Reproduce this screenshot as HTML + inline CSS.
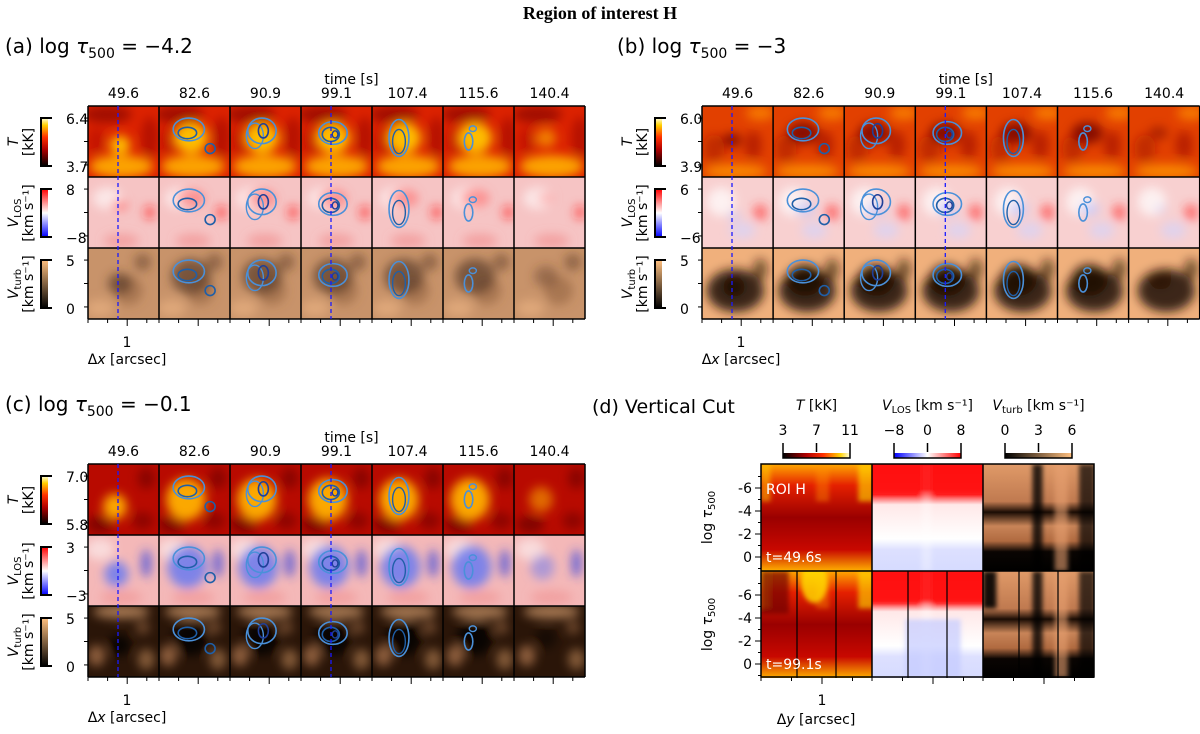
<!DOCTYPE html>
<html><head><meta charset="utf-8">
<style>
html,body{margin:0;padding:0;background:#fff;}
svg text{font-family:"DejaVu Sans","Liberation Sans",sans-serif;fill:#000;}
</style></head>
<body>
<svg id="fig" width="1200" height="729" viewBox="0 0 1200 729" xmlns="http://www.w3.org/2000/svg">
<defs>
<filter id="blur" x="-50%" y="-50%" width="200%" height="200%"><feGaussianBlur stdDeviation="5"/></filter>
<filter id="blur2" x="-50%" y="-50%" width="200%" height="200%"><feGaussianBlur stdDeviation="2.5"/></filter>
<linearGradient id="cmT" x1="0" y1="1" x2="0" y2="0"><stop offset="0" stop-color="#000"/><stop offset="0.35" stop-color="#b00000"/><stop offset="0.6" stop-color="#ff3000"/><stop offset="0.85" stop-color="#ffd000"/><stop offset="1" stop-color="#ffffe0"/></linearGradient>
<linearGradient id="cmV" x1="0" y1="1" x2="0" y2="0"><stop offset="0" stop-color="#0000ff"/><stop offset="0.5" stop-color="#ffffff"/><stop offset="1" stop-color="#ff0000"/></linearGradient>
<linearGradient id="cmB" x1="0" y1="1" x2="0" y2="0"><stop offset="0" stop-color="#000"/><stop offset="1" stop-color="#ffc080"/></linearGradient>
<linearGradient id="cmTh" x1="0" y1="0" x2="1" y2="0"><stop offset="0" stop-color="#000"/><stop offset="0.35" stop-color="#b00000"/><stop offset="0.6" stop-color="#ff3000"/><stop offset="0.85" stop-color="#ffd000"/><stop offset="1" stop-color="#ffffe0"/></linearGradient>
<linearGradient id="cmVh" x1="0" y1="0" x2="1" y2="0"><stop offset="0" stop-color="#0000ff"/><stop offset="0.5" stop-color="#ffffff"/><stop offset="1" stop-color="#ff0000"/></linearGradient>
<linearGradient id="cmBh" x1="0" y1="0" x2="1" y2="0"><stop offset="0" stop-color="#000"/><stop offset="1" stop-color="#ffc080"/></linearGradient>
<linearGradient id="dT" x1="0" y1="0" x2="0" y2="1"><stop offset="0" stop-color="#ffa800"/><stop offset="0.2" stop-color="#e52000"/><stop offset="0.5" stop-color="#9a0000"/><stop offset="0.8" stop-color="#c80800"/><stop offset="1" stop-color="#ffb000"/></linearGradient>
<linearGradient id="dV" x1="0" y1="0" x2="0" y2="1"><stop offset="0" stop-color="#ff1010"/><stop offset="0.28" stop-color="#ff2020"/><stop offset="0.38" stop-color="#ffe8e8"/><stop offset="0.7" stop-color="#ffffff"/><stop offset="0.8" stop-color="#dde0ff"/><stop offset="1" stop-color="#d6dbff"/></linearGradient>
<linearGradient id="dB" x1="0" y1="0" x2="0" y2="1"><stop offset="0" stop-color="#e09a68"/><stop offset="0.35" stop-color="#c07a50"/><stop offset="0.45" stop-color="#1a0c04"/><stop offset="0.58" stop-color="#c88458"/><stop offset="0.72" stop-color="#b06a40"/><stop offset="0.82" stop-color="#0a0502"/><stop offset="1" stop-color="#000"/></linearGradient>
</defs>
<text x="600" y="19" text-anchor="middle" style="font-family:'Liberation Serif',serif;font-weight:bold;font-size:18px">Region of interest H</text>
<g id="root"></g>
</svg>
<script>
const times = ["49.6","82.6","90.9","99.1","107.4","115.6","140.4"];
const panelLabels = ["(a) log ","(b) log ","(c) log "];
const panelTau = ["−4.2","−3","−0.1"];
const tTicks = [["6.4","3.7"],["6.0","3.9"],["7.0","5.8"]];
const vTicks = [["8","−8"],["6","−6"],["3","−3"]];
const bTicks = [["5","0"],["5","0"],["5","0"]];
const dYTicks = ["-6","-4","-2","0"];
const dYVals = [-6,-4,-2,0];
const dCbT = ["3","7","11"];
const dCbV = ["−8","0","8"];
const dCbB = ["0","3","6"];

const NS="http://www.w3.org/2000/svg";
const root=document.getElementById('root');
function el(tag,attrs,parent,txt){const e=document.createElementNS(NS,tag);for(const k in attrs)e.setAttribute(k,attrs[k]);if(txt!==undefined)e.textContent=txt;(parent||root).appendChild(e);return e;}

const specs={
 T0:{base:"#dc2200",common:[[0.5,0.85,0.45,0.16,"#ffb000",0.9],[0.3,0.12,0.35,0.12,"#780000",0.6],[0.9,0.45,0.12,0.3,"#900000",0.5],[0.15,0.5,0.12,0.2,"#a00000",0.4]],center:[[0.45,0.45,0.24,0.22,"#ffc400",0.95]]},
 T1:{base:"#e24000",common:[[0.5,0.92,0.45,0.1,"#ff9800",0.8],[0.85,0.1,0.2,0.1,"#ff9000",0.7],[0.2,0.6,0.15,0.2,"#a01000",0.5],[0.75,0.55,0.12,0.2,"#900000",0.5]],center:[[0.42,0.38,0.22,0.15,"#700000",0.8]]},
 T2:{base:"#b80a00",common:[[0.85,0.2,0.12,0.15,"#6a0000",0.6],[0.2,0.85,0.2,0.12,"#5a0000",0.6],[0.8,0.8,0.15,0.12,"#700000",0.6]],center:[[0.38,0.5,0.28,0.3,"#ffb000",0.95]]},
 V0:{base:"#f6c4c4",common:[[0.3,0.3,0.2,0.15,"#ffffff",0.6],[0.9,0.5,0.08,0.1,"#ff2020",0.6],[0.5,0.9,0.25,0.1,"#f08080",0.5]],center:[[0.45,0.3,0.2,0.12,"#ff6060",0.6]]},
 V1:{base:"#f8d0d0",common:[[0.3,0.35,0.2,0.2,"#ffffff",0.7],[0.85,0.5,0.1,0.12,"#ff3030",0.6],[0.6,0.75,0.18,0.12,"#d0d4ff",0.6]],center:[[0.45,0.45,0.14,0.1,"#c0c8ff",0.7]]},
 V2:{base:"#f4b8b8",common:[[0.2,0.2,0.2,0.15,"#ffffff",0.5],[0.85,0.4,0.07,0.2,"#3040e0",0.7],[0.5,0.88,0.3,0.1,"#f08a8a",0.5]],center:[[0.4,0.45,0.28,0.3,"#6a7af0",0.85]]},
 B0:{base:"#c8936a",common:[[0.2,0.85,0.2,0.12,"#e8b080",0.7],[0.8,0.2,0.12,0.12,"#5a3a20",0.5],[0.6,0.6,0.2,0.2,"#8a5a3a",0.5]],center:[[0.45,0.4,0.28,0.25,"#5a3a28",0.7]]},
 B1:{base:"#f0b07c",common:[[0.5,0.6,0.4,0.3,"#2a1508",0.9],[0.85,0.3,0.1,0.15,"#2a1508",0.6]],center:[[0.45,0.45,0.25,0.22,"#1a0c04",0.8]]},
 B2:{base:"#2a1508",common:[[0.5,0.08,0.4,0.1,"#d9a070",0.7],[0.15,0.7,0.12,0.15,"#d09060",0.6],[0.85,0.75,0.12,0.15,"#c08858",0.6],[0.8,0.3,0.1,0.1,"#b07850",0.5]],center:[[0.45,0.45,0.25,0.25,"#000000",0.8]]}
};
const contours=[[],
 [[0.42,0.33,0.22,0.16,"#4a90d9",1.6],[0.4,0.38,0.13,0.08,"#1f5fa8",1.6],[0.72,0.6,0.07,0.07,"#1f5fa8",1.6]],
 [[0.45,0.35,0.2,0.18,"#4a90d9",1.6],[0.35,0.42,0.12,0.18,"#4a90d9",1.4],[0.47,0.35,0.07,0.1,"#1f3f98",1.6]],
 [[0.45,0.38,0.2,0.16,"#4a90d9",1.6],[0.42,0.4,0.12,0.1,"#1f5fa8",1.6],[0.48,0.4,0.04,0.05,"#1f3f98",1.4]],
 [[0.38,0.45,0.14,0.26,"#4a90d9",1.6],[0.38,0.5,0.09,0.17,"#1f5fa8",1.4]],
 [[0.36,0.5,0.06,0.12,"#4a90d9",1.6],[0.42,0.32,0.05,0.04,"#4a90d9",1.4]],
 []];

function drawCell(x,y,w,h,spec,ci){
  const s=el('svg',{x:x,y:y,width:w,height:h,overflow:'hidden'});
  
  
  el('rect',{x:0,y:0,width:w,height:h,fill:spec.base},s);
  const g=el('g',{filter:'url(#blur)'},s);
  const shift=(ci-3)*0.01;
  spec.common.forEach(b=>el('ellipse',{cx:(b[0]+shift)*w,cy:b[1]*h,rx:b[2]*w,ry:b[3]*h,fill:b[4],opacity:b[5]},g));
  let sc = (ci===0||ci===6)?0.6:1;
  spec.center.forEach(b=>el('ellipse',{cx:b[0]*w,cy:(b[1]+(ci===0?0.1:0))*h,rx:b[2]*w*sc,ry:b[3]*h*sc,fill:b[4],opacity:b[5]*(ci===6?0.6:1)},g));
  contours[ci].forEach(k=>{
    const e=el('ellipse',{cx:k[0]*w,cy:k[1]*h,rx:k[2]*w,ry:k[3]*h,fill:'none',stroke:k[4],'stroke-width':k[5]},s);
    
    
  });
}

function txt(x,y,s,opts,parent){return el('text',Object.assign({x:x,y:y},opts||{}),parent,s);}

function colorbar(x,y,h,grad,labels){
  el('rect',{x:x,y:y,width:7,height:h,fill:'url(#'+grad+')'});
  el('path',{d:`M${x+11},${y} L${x},${y} L${x},${y+h} L${x+11},${y+h}`,fill:'none',stroke:'#000','stroke-width':2});
  txt(x+25,y+6,labels[0],{'font-size':14});
  txt(x+25,y+h+6,labels[1],{'font-size':14});
}
function ylab(x,cy,l1,l2){
  const g=el('g',{transform:`translate(${x},${cy}) rotate(-90)`});
  
  
  txt(0,0,'',{'text-anchor':'middle','font-size':14},g).innerHTML=l1;
  txt(0,15,l2,{'text-anchor':'middle','font-size':14},g);
}

const panels=[{x0:88,y0:106,lx:5,ly:53},{x0:702,y0:106,lx:617,ly:53},{x0:88,y0:464,lx:5,ly:411}];
const CW=71, RH=[71,71,71];
panels.forEach((P,pi)=>{
  const cw = pi===1?71.1:CW;
  const lab=el('text',{x:P.lx,y:P.ly,'font-size':20});
  
  
  lab.innerHTML=panelLabels[pi]+'<tspan font-style="italic">τ</tspan><tspan font-size="14" dy="5">500</tspan><tspan dy="-5"> = '+panelTau[pi]+'</tspan>';
  const gw=cw*7;
  txt(P.x0+gw/2+15,P.y0-22,'time [s]',{'text-anchor':'middle','font-size':14});
  times.forEach((t,i)=>{const e=txt(P.x0+cw*i+cw/2,P.y0-8,t,{'text-anchor':'middle','font-size':14});});
  const rows=['T','V','B'];
  let yy=P.y0;
  const rowY=[];
  rows.forEach((r,ri)=>{
    rowY.push(yy);
    for(let i=0;i<7;i++) drawCell(P.x0+cw*i,yy,cw,RH[ri],specs[r+pi],i);
    [0.17,0.5,0.83].forEach(f=>el('line',{x1:P.x0-4,x2:P.x0,y1:yy+f*RH[ri],y2:yy+f*RH[ri],stroke:'#000','stroke-width':1}));
    yy+=RH[ri];
  });
  for(let i=0;i<=7;i++) el('line',{x1:P.x0+cw*i,x2:P.x0+cw*i,y1:P.y0,y2:yy,stroke:'#000','stroke-width':1.5});
  rowY.concat([yy]).forEach(v=>el('line',{x1:P.x0,x2:P.x0+gw,y1:v,y2:v,stroke:'#000','stroke-width':1.5}));
  [0,3].forEach(ci=>{const d=el('line',{x1:P.x0+cw*ci+30,x2:P.x0+cw*ci+30,y1:P.y0,y2:yy,stroke:'#1a1aff','stroke-width':1.3,'stroke-dasharray':'4,3'});});
  for(let i=0;i<7;i++) for(let k=0;k<4;k++){const x=P.x0+cw*i+k*19.6;el('line',{x1:x,x2:x,y1:yy,y2:yy+(k===2?7:4),stroke:'#000','stroke-width':1});}
  txt(P.x0+39,yy+28,'1',{'text-anchor':'middle','font-size':14});
  const xl=el('text',{x:P.x0+39,y:yy+45,'text-anchor':'middle','font-size':14});
  xl.innerHTML='Δ<tspan font-style="italic">x</tspan> [arcsec]';
  const cbx=P.x0-47;
  colorbar(cbx,rowY[0]+12,48,'cmT',tTicks[pi]);
  colorbar(cbx,rowY[1]+12,48,'cmV',vTicks[pi]);
  colorbar(cbx,rowY[2]+12,48,'cmB',bTicks[pi]);
  ylab(P.x0-70,rowY[0]+36,'<tspan font-style="italic">T</tspan>','[kK]');
  ylab(P.x0-70,rowY[1]+36,'<tspan font-style="italic">V</tspan><tspan font-size="10" dy="3">LOS</tspan>','[km s⁻¹]');
  ylab(P.x0-70,rowY[2]+36,'<tspan font-style="italic">V</tspan><tspan font-size="10" dy="3">turb</tspan>','[km s⁻¹]');
});

const dl=el('text',{x:592,y:413,'font-size':19},root,'(d) Vertical Cut');


const DX=[761,872,983], DW=111, DY=[464,571], DH=107;
const grads=['dT','dV','dB'];
const cbG=['cmTh','cmVh','cmBh'];
const cbL=[dCbT,dCbV,dCbB];
const cbTitle=['<tspan font-style="italic">T</tspan> [kK]','<tspan font-style="italic">V</tspan><tspan font-size="10" dy="3">LOS</tspan><tspan dy="-3"> [km s⁻¹]</tspan>','<tspan font-style="italic">V</tspan><tspan font-size="10" dy="3">turb</tspan><tspan dy="-3"> [km s⁻¹]</tspan>'];
const stripes={dT:[[0.05,"#ffd000",0.5],[0.55,"#ff9000",0.4],[0.93,"#ffe000",0.6]],dV:[[0.5,"#ffffff",0.3]],dB:[[0.5,"#000",0.8],[0.7,"#e8a070",0.6],[0.92,"#000",0.7]]};
DX.forEach((x,ci)=>{
  const cx=x+22;
  el('rect',{x:cx,y:453,width:67,height:5,fill:'url(#'+cbG[ci]+')'});
  el('path',{d:`M${cx},443 L${cx},458 L${cx+67},458 L${cx+67},443 M${cx+33.5},452 L${cx+33.5},443`,fill:'none',stroke:'#000','stroke-width':1.5});
  cbL[ci].forEach((l,k)=>txt(cx+k*33.5,435,l,{'text-anchor':'middle','font-size':14}));
  const tt=el('text',{x:cx+33.5,y:410,'text-anchor':'middle','font-size':14});tt.innerHTML=cbTitle[ci];
  DY.forEach((y,ri)=>{
    const s=el('svg',{x:x,y:y,width:DW,height:DH,overflow:'hidden'});
    
    
    el('rect',{x:0,y:0,width:DW,height:DH,fill:'url(#'+grads[ci]+')'},s);
    const g=el('g',{filter:'url(#blur2)'},s);
    stripes[grads[ci]].forEach((st,k)=>el('rect',{x:st[0]*DW-6,y:0,width:10+k*3,height:DH*(ci===0?0.35:1),fill:st[1],opacity:st[2]},g));
    if(ci===1){el('rect',{x:-5,y:0,width:DW+10,height:DH*(ri===0?0.28:0.3),fill:'#ff1010',opacity:0.8},g);if(ri===1)el('rect',{x:DW*0.3,y:DH*0.45,width:DW*0.5,height:DH*0.55,fill:'#c4caff',opacity:0.7},g);}
    if(ci===2&&ri===1){el('rect',{x:0,y:0,width:DW*0.12,height:DH*0.35,fill:'#000',opacity:0.9},g);}
    if(ci===0&&ri===1){el('rect',{x:0,y:0,width:DW*0.25,height:DH*0.4,fill:'#700000',opacity:0.7},g);el('ellipse',{cx:DW*0.48,cy:DH*0.1,rx:DW*0.12,ry:DH*0.2,fill:'#ffe000',opacity:0.8},g);}
    if(ri===1){[36,75].forEach(o=>el('line',{x1:o,x2:o,y1:0,y2:DH,stroke:'#000','stroke-width':1.2},s));}
  });
});
el('rect',{x:761,y:464,width:333,height:213,fill:'none',stroke:'#000','stroke-width':1.5});
DX.slice(1).forEach(x=>el('line',{x1:x,x2:x,y1:464,y2:677,stroke:'#000','stroke-width':1.5}));
el('line',{x1:761,x2:1094,y1:571,y2:571,stroke:'#000','stroke-width':1.5});
txt(766,494,'ROI H',{'font-size':14,style:'fill:#fff'});
txt(766,562,'t=49.6s',{'font-size':14,style:'fill:#fff'});
txt(766,669,'t=99.1s',{'font-size':14,style:'fill:#fff'});
function yScale(v,ri){return DY[ri]+24+(v+6)*11.5;}
DY.forEach((y,ri)=>{
  dYVals.forEach((v,k)=>{const yy=yScale(v,ri);el('line',{x1:755,x2:761,y1:yy,y2:yy,stroke:'#000'});txt(752,yy+5,dYTicks[k],{'text-anchor':'end','font-size':14});});
  for(let v=-7;v<=1;v+=2){const yy=yScale(v,ri);el('line',{x1:758,x2:761,y1:yy,y2:yy,stroke:'#000'});}
  const g=el('g',{transform:`translate(712,${y+DH/2}) rotate(-90)`});
  const t=el('text',{x:0,y:0,'text-anchor':'middle','font-size':14},g);t.innerHTML='log <tspan font-style="italic">τ</tspan><tspan font-size="10" dy="3">500</tspan>';
});
DX.forEach(x=>{for(let k=0;k<4;k++){const xx=x+k*30.5;el('line',{x1:xx,x2:xx,y1:677,y2:677+(k===2?7:4),stroke:'#000'});}});
txt(822,705,'1',{'text-anchor':'middle','font-size':14});
const dxl=el('text',{x:816,y:724,'text-anchor':'middle','font-size':14});dxl.innerHTML='Δ<tspan font-style="italic">y</tspan> [arcsec]';
</script>
</body></html>
